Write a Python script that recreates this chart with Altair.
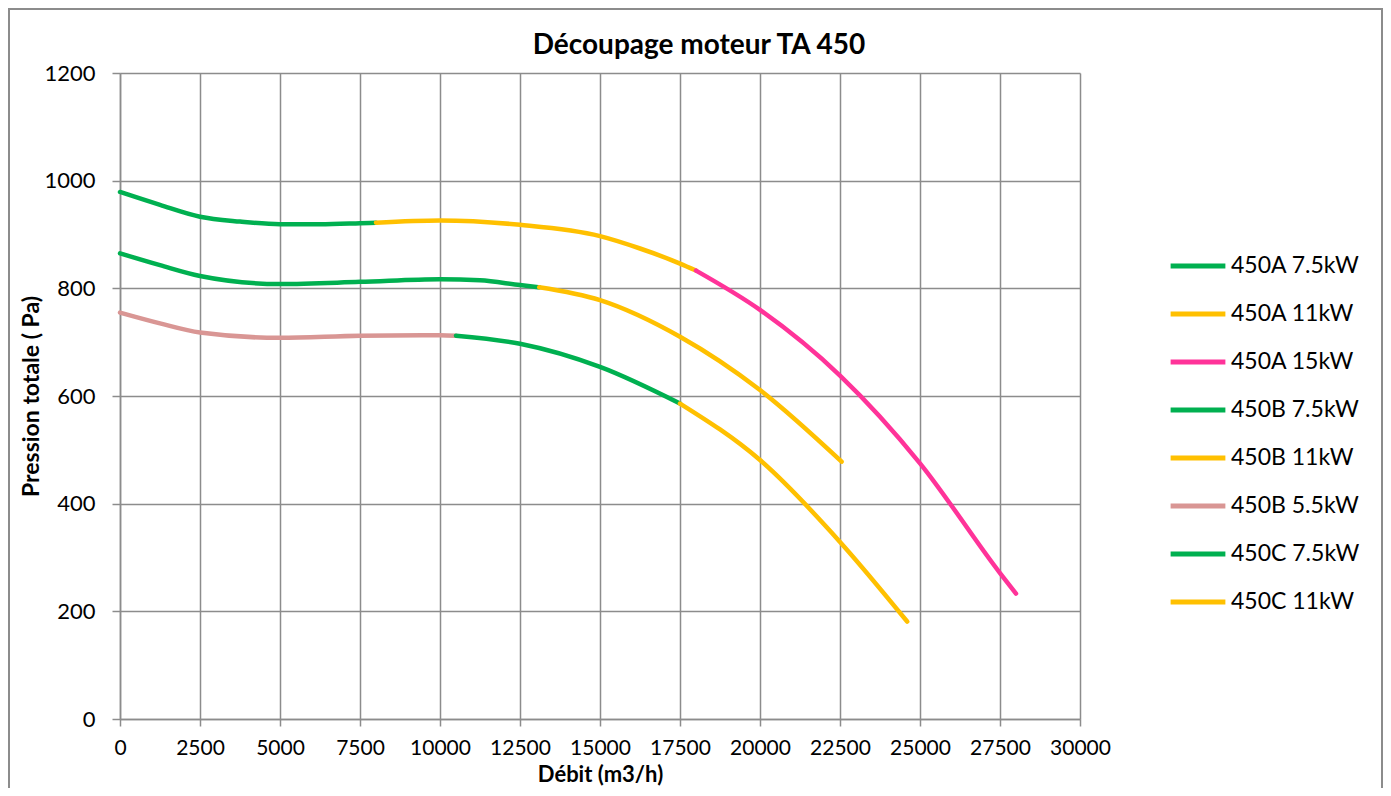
import altair as alt
import pandas as pd

FONT = "Lato"

series_names = ["450A 7.5kW", "450A 11kW", "450A 15kW", "450B 7.5kW",
                "450B 11kW", "450B 5.5kW", "450C 7.5kW", "450C 11kW"]
series_colors = ["#00B050", "#FFC000", "#FF3399", "#00B050",
                 "#FFC000", "#D99694", "#00B050", "#FFC000"]

# flow (m3/h) and total pressure (Pa)
a75_x = [0, 1250, 2500, 3750, 5000, 6250, 7500, 8000]
a75_y = [979, 955, 933, 924, 919, 919, 921, 922]
a11_x = [8000, 10000, 12500, 15000, 16250, 17500, 18000]
a11_y = [922, 926, 918, 897, 874, 846, 833]
a15_x = [18000, 20000, 22500, 25000, 27500, 28000]
a15_y = [833, 760, 638, 475, 271, 233]
b75_x = [0, 1250, 2500, 5000, 7500, 10000, 11250, 12500, 13100]
b75_y = [865, 843, 823, 808, 812, 817, 815, 806, 802]
b11_x = [13100, 15000, 17500, 20000, 22550]
b11_y = [802, 778, 710, 611, 478]
b55_x = [0, 1250, 2500, 5000, 7500, 10000, 10500]
b55_y = [755, 735, 718, 708, 712, 713, 712]
c75_x = [10500, 12500, 15000, 17500]
c75_y = [712, 697, 654, 586]
c11_x = [17500, 20000, 22500, 24600]
c11_y = [586, 481, 329, 181]

xs = [a75_x, a11_x, a15_x, b75_x, b11_x, b55_x, c75_x, c11_x]
ys = [a75_y, a11_y, a15_y, b75_y, b11_y, b55_y, c75_y, c11_y]

rows = []
for name, sx, sy in zip(series_names, xs, ys):
    for i, (xv, yv) in enumerate(zip(sx, sy)):
        rows.append({"serie": name, "debit": xv, "pression": yv, "i": i})
df = pd.DataFrame(rows)

x_ticks = list(range(0, 30001, 2500))
y_ticks = list(range(0, 1201, 200))

GRID = "#8C8C8C"

lines = alt.Chart(df).mark_line(
    interpolate="monotone", strokeWidth=4.5, strokeCap="round"
).encode(
    x=alt.X("debit:Q", scale=alt.Scale(domain=[0, 30000], nice=False),
            axis=alt.Axis(values=x_ticks, title="Débit (m3/h)", format="d",
                          labelFontSize=21, labelPadding=11, tickSize=7,
                          labelOverlap=False, labelFlush=False,
                          titleFontSize=22, titleFontWeight="bold",
                          titleX=480, titleY=45, titleAlign="center",
                          titleBaseline="top")),
    y=alt.Y("pression:Q", scale=alt.Scale(domain=[0, 1200], nice=False),
            axis=alt.Axis(values=y_ticks, title="Pression totale ( Pa)", format="d",
                          labelFontSize=22, labelPadding=17, tickSize=8,
                          labelOverlap=False, labelFlush=False,
                          titleFontSize=23, titleFontWeight="bold",
                          titleX=-89, titleY=323, titleAlign="center",
                          titleBaseline="middle", titleAngle=270)),
    color=alt.Color("serie:N",
                    scale=alt.Scale(domain=series_names, range=series_colors),
                    sort=series_names,
                    legend=alt.Legend(title=None, orient="none", legendX=1048, legendY=178,
                                      symbolType="stroke", symbolSize=3000,
                                      symbolStrokeWidth=5, clipHeight=30,
                                      rowPadding=18, labelFontSize=23,
                                      labelOffset=3, labelColor="black")),
    order="i:Q",
)

frame = alt.Chart(pd.DataFrame({"k": [0]})).mark_rect(
    fill="transparent", stroke="#8C8C8C", strokeWidth=2
).encode(
    x=alt.value(-111), x2=alt.value(1262), y=alt.value(-64), y2=alt.value(760)
)

chart = alt.layer(frame, lines).properties(
    width=960, height=646,
    autosize=alt.AutoSizeParams(type="none"),
    padding={"left": 112, "top": 65, "right": 303, "bottom": 69},
    title=alt.TitleParams("Découpage moteur TA 450", fontSize=28, fontWeight="bold",
                          anchor="middle", frame="group", dx=99, offset=-74,
                          baseline="alphabetic", color="black"),
).configure(font=FONT).configure_axis(
    grid=True, gridColor=GRID, gridWidth=1.5, domainColor=GRID, domainWidth=1.5,
    tickColor=GRID, tickWidth=1.5, labelColor="black", titleColor="black",
    labelFont=FONT, titleFont=FONT,
).configure_legend(labelFont=FONT).configure_title(font=FONT).configure_view(
    stroke=None
)

chart.save("out.html", embed_options={"renderer": "svg", "actions": False})
